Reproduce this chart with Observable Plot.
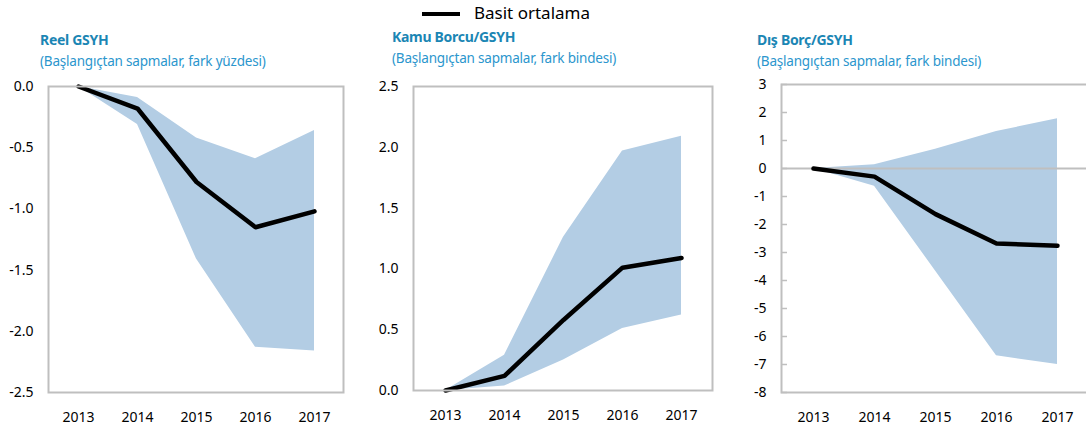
<!DOCTYPE html>
<html><head><meta charset="utf-8">
<script src="https://cdn.jsdelivr.net/npm/d3@7"></script>
<script src="https://cdn.jsdelivr.net/npm/@observablehq/plot@0.6"></script>
<style>
body{margin:0;background:#fff;}
#root{position:relative;width:1086px;height:432px;overflow:hidden;font-family:"Noto Sans",sans-serif;}
.t{position:absolute;font-weight:bold;font-size:14px;color:#1b86b4;line-height:16px;white-space:nowrap;letter-spacing:-0.3px}
.s{position:absolute;font-size:13.5px;color:#2b96cd;line-height:16px;white-space:nowrap;letter-spacing:-0.2px}
.p{position:absolute}
.lg{position:absolute;font-size:17px;line-height:20px;color:#000;white-space:nowrap}
</style></head><body><div id="root"></div>
<script>
const years = [2013, 2014, 2015, 2016, 2017];

const gdpMean = [0, -0.18, -0.78, -1.15, -1.02];
const gdpHigh = [0, -0.09, -0.42, -0.59, -0.36];
const gdpLow  = [0, -0.31, -1.41, -2.13, -2.16];
const gdpTicks = [0, -0.5, -1.0, -1.5, -2.0, -2.5];

const debtMean = [0, 0.12, 0.58, 1.01, 1.09];
const debtHigh = [0, 0.29, 1.26, 1.97, 2.09];
const debtLow  = [0, 0.036, 0.25, 0.51, 0.62];
const debtTicks = [0, 0.5, 1.0, 1.5, 2.0, 2.5];

const extMean = [0, -0.29, -1.63, -2.68, -2.76];
const extHigh = [0, 0.13, 0.69, 1.32, 1.78];
const extLow  = [0, -0.63, -3.66, -6.69, -7.0];
const extTicks = [3, 2, 1, 0, -1, -2, -3, -4, -5, -6, -7, -8];

const titles = ["Reel GSYH", "Kamu Borcu/GSYH", "Dış Borç/GSYH"];
const subtitles = ["(Başlangıçtan sapmalar, fark yüzdesi)", "(Başlangıçtan sapmalar, fark bindesi)", "(Başlangıçtan sapmalar, fark bindesi)"];
const legendLabel = "Basit ortalama";

const root = document.getElementById("root");

function panel(cfg) {
  const data = years.map((y, i) => ({year: y, mean: cfg.mean[i], lo: cfg.low[i], hi: cfg.high[i]}));
  const marks = [
    Plot.areaY(data, {x: "year", y1: "lo", y2: "hi", fill: "#b3cde4"}),
  ];
  if (cfg.zero) {
    marks.push(Plot.ruleY([0], {stroke: "#bfbfbf", strokeWidth: 2}));
    marks.push(Plot.tickY(cfg.ticks, {y: d => d, stroke: "#bfbfbf", strokeWidth: 1.5, insetRight: cfg.frameW - 6}));
  }
  marks.push(
    Plot.line(data, {x: "year", y: "mean", stroke: "#000", strokeWidth: 4.5, strokeLinecap: "round", strokeLinejoin: "round"}),
    Plot.frame({stroke: "#bfbfbf", strokeWidth: 2}),
    Plot.axisX({tickSize: 0, tickPadding: 20, tickFormat: d => String(d), fill: "#000", label: null}),
    Plot.axisY({ticks: cfg.ticks, tickSize: 0, tickPadding: 15, tickFormat: cfg.fmt, fill: "#000", label: null})
  );
  const svg = Plot.plot({
    width: cfg.width, height: cfg.height,
    marginLeft: cfg.ml, marginRight: cfg.mr, marginTop: cfg.mt, marginBottom: cfg.mb,
    x: {type: "point", domain: years, padding: 0.5, label: null},
    y: {domain: cfg.domain, label: null},
    style: {fontSize: "14px", fontFamily: "Noto Sans", color: "#000", background: "transparent", overflow: "visible"},
    marks
  });
  svg.classList.add("p");
  svg.style.left = cfg.left + "px";
  svg.style.top = cfg.top + "px";
  root.appendChild(svg);
}

panel({left: 0, top: 70, width: 360, height: 362, ml: 48, mr: 17, mt: 16, mb: 40,
  domain: [-2.5, 0], ticks: gdpTicks, fmt: d => d.toFixed(1),
  mean: gdpMean, low: gdpLow, high: gdpHigh});
panel({left: 360, top: 70, width: 360, height: 362, ml: 53, mr: 8, mt: 16, mb: 42,
  domain: [0, 2.5], ticks: debtTicks, fmt: d => d.toFixed(1),
  mean: debtMean, low: debtLow, high: debtHigh});
panel({left: 720, top: 70, width: 370, height: 362, ml: 61, mr: 1, mt: 14, mb: 40,
  domain: [-8, 3], ticks: extTicks, fmt: d => String(d), zero: true, frameW: 308,
  mean: extMean, low: extLow, high: extHigh});

const pos = [[40, 32, 53], [392, 29, 50], [757, 32, 53]];
pos.forEach(([x, ty, sy], i) => {
  const t = document.createElement("div"); t.className = "t"; t.style.left = x + "px"; t.style.top = ty + "px"; t.textContent = titles[i]; root.appendChild(t);
  const s = document.createElement("div"); s.className = "s"; s.style.left = x + "px"; s.style.top = sy + "px"; s.textContent = subtitles[i]; root.appendChild(s);
});

// legend
const lg = document.createElement("div");
lg.className = "lg"; lg.style.left = "422px"; lg.style.top = "3px";
lg.innerHTML = '<svg width="40" height="20" style="vertical-align:top"><line x1="0" x2="38" y1="11" y2="11" stroke="#000" stroke-width="4"/></svg>';
const lt = document.createElement("span");
lt.textContent = legendLabel; lt.style.marginLeft = "12px";
lg.appendChild(lt);
root.appendChild(lg);
</script>
</body></html>
